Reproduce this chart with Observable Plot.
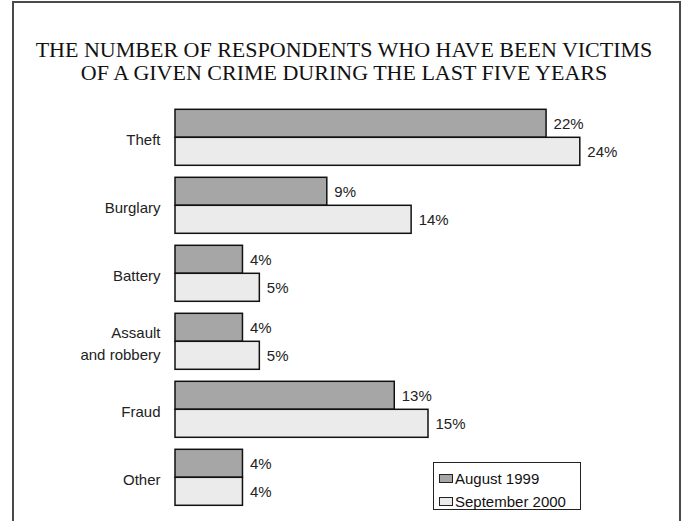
<!DOCTYPE html>
<html>
<head>
<meta charset="utf-8">
<script src="https://cdn.jsdelivr.net/npm/d3@7"></script>
<script src="https://cdn.jsdelivr.net/npm/@observablehq/plot@0.6"></script>
<style>
  body { margin: 0; background: #fff; }
  #wrap { position: relative; width: 688px; height: 521px; overflow: hidden; background: #fff; }
  #frame { position: absolute; left: 12px; top: 1px; width: 665px; height: 600px; border: 2px solid #4a4a4a; box-sizing: content-box; }
  #title { position: absolute; left: 0; top: 38px; width: 688px; text-align: center;
           font-family: "Liberation Serif", "Times New Roman", serif; font-size: 22px; line-height: 23px; color: #111; }
  #chart { position: absolute; left: 0; top: 0; }
  #legend { position: absolute; left: 433px; top: 462px; width: 146px; height: 46px; border: 1.5px solid #222; background: #fff;
            font-family: "Liberation Sans", Arial, sans-serif; font-size: 15px; color: #111; }
  .item { position: absolute; left: 5px; height: 20px; display: flex; align-items: center; white-space: nowrap; }
  .sw { width: 12px; height: 7px; border: 1.5px solid #222; margin-right: 2px; }
</style>
</head>
<body>
<div id="wrap">
  <div id="frame"></div>
  <div id="title">THE NUMBER OF RESPONDENTS WHO HAVE BEEN VICTIMS<br>OF A GIVEN CRIME DURING THE LAST FIVE YEARS</div>
  <div id="chart"></div>
  <div id="legend"></div>
</div>
<script>
const categories = ["Theft", "Burglary", "Battery", "Assault and robbery", "Fraud", "Other"];
const series = ["August 1999", "September 2000"];
const colors = ["#a6a6a6", "#ebebeb"];
const aug1999 = [22, 9, 4, 4, 13, 4];
const sep2000 = [24, 14, 5, 5, 15, 4];

const data = categories.flatMap((c, i) => [
  {category: c, series: series[0], value: aug1999[i]},
  {category: c, series: series[1], value: sep2000[i]}
]);

const chart = Plot.plot({
  width: 688,
  height: 521,
  marginTop: 107.7,
  marginBottom: 12.3,
  marginLeft: 175,
  marginRight: 7,
  x: {domain: [0, 30], axis: null},
  y: {domain: series, axis: null, padding: 0},
  fy: {domain: categories, paddingInner: 0.155, paddingOuter: 0, axis: null},
  color: {domain: series, range: colors},
  style: {fontFamily: "'Liberation Sans', Arial, sans-serif", fontSize: "15px", background: "transparent", color: "#222"},
  marks: [
    Plot.axisFy({anchor: "left", tickSize: 0, tickPadding: 15, fontSize: 15, lineHeight: 1.5, label: null, fill: "#222",
      tickFormat: d => d === "Assault and robbery" ? "Assault\nand robbery" : d}),
    Plot.barX(data, {x: "value", y: "series", fy: "category", fill: "series", stroke: "#111", strokeWidth: 1.5}),
    Plot.text(data, {x: "value", y: "series", fy: "category", text: d => d.value + "%", dx: 7, textAnchor: "start", fontSize: 15, fill: "#222"})
  ]
});
document.getElementById("chart").appendChild(chart);

const legend = document.getElementById("legend");
series.forEach((s, i) => {
  const it = document.createElement("div");
  it.className = "item";
  it.style.top = (5 + i * 23) + "px";
  const sw = document.createElement("span");
  sw.className = "sw";
  sw.style.background = colors[i];
  const tx = document.createElement("span");
  tx.textContent = s;
  it.appendChild(sw);
  it.appendChild(tx);
  legend.appendChild(it);
});
</script>
</body>
</html>
